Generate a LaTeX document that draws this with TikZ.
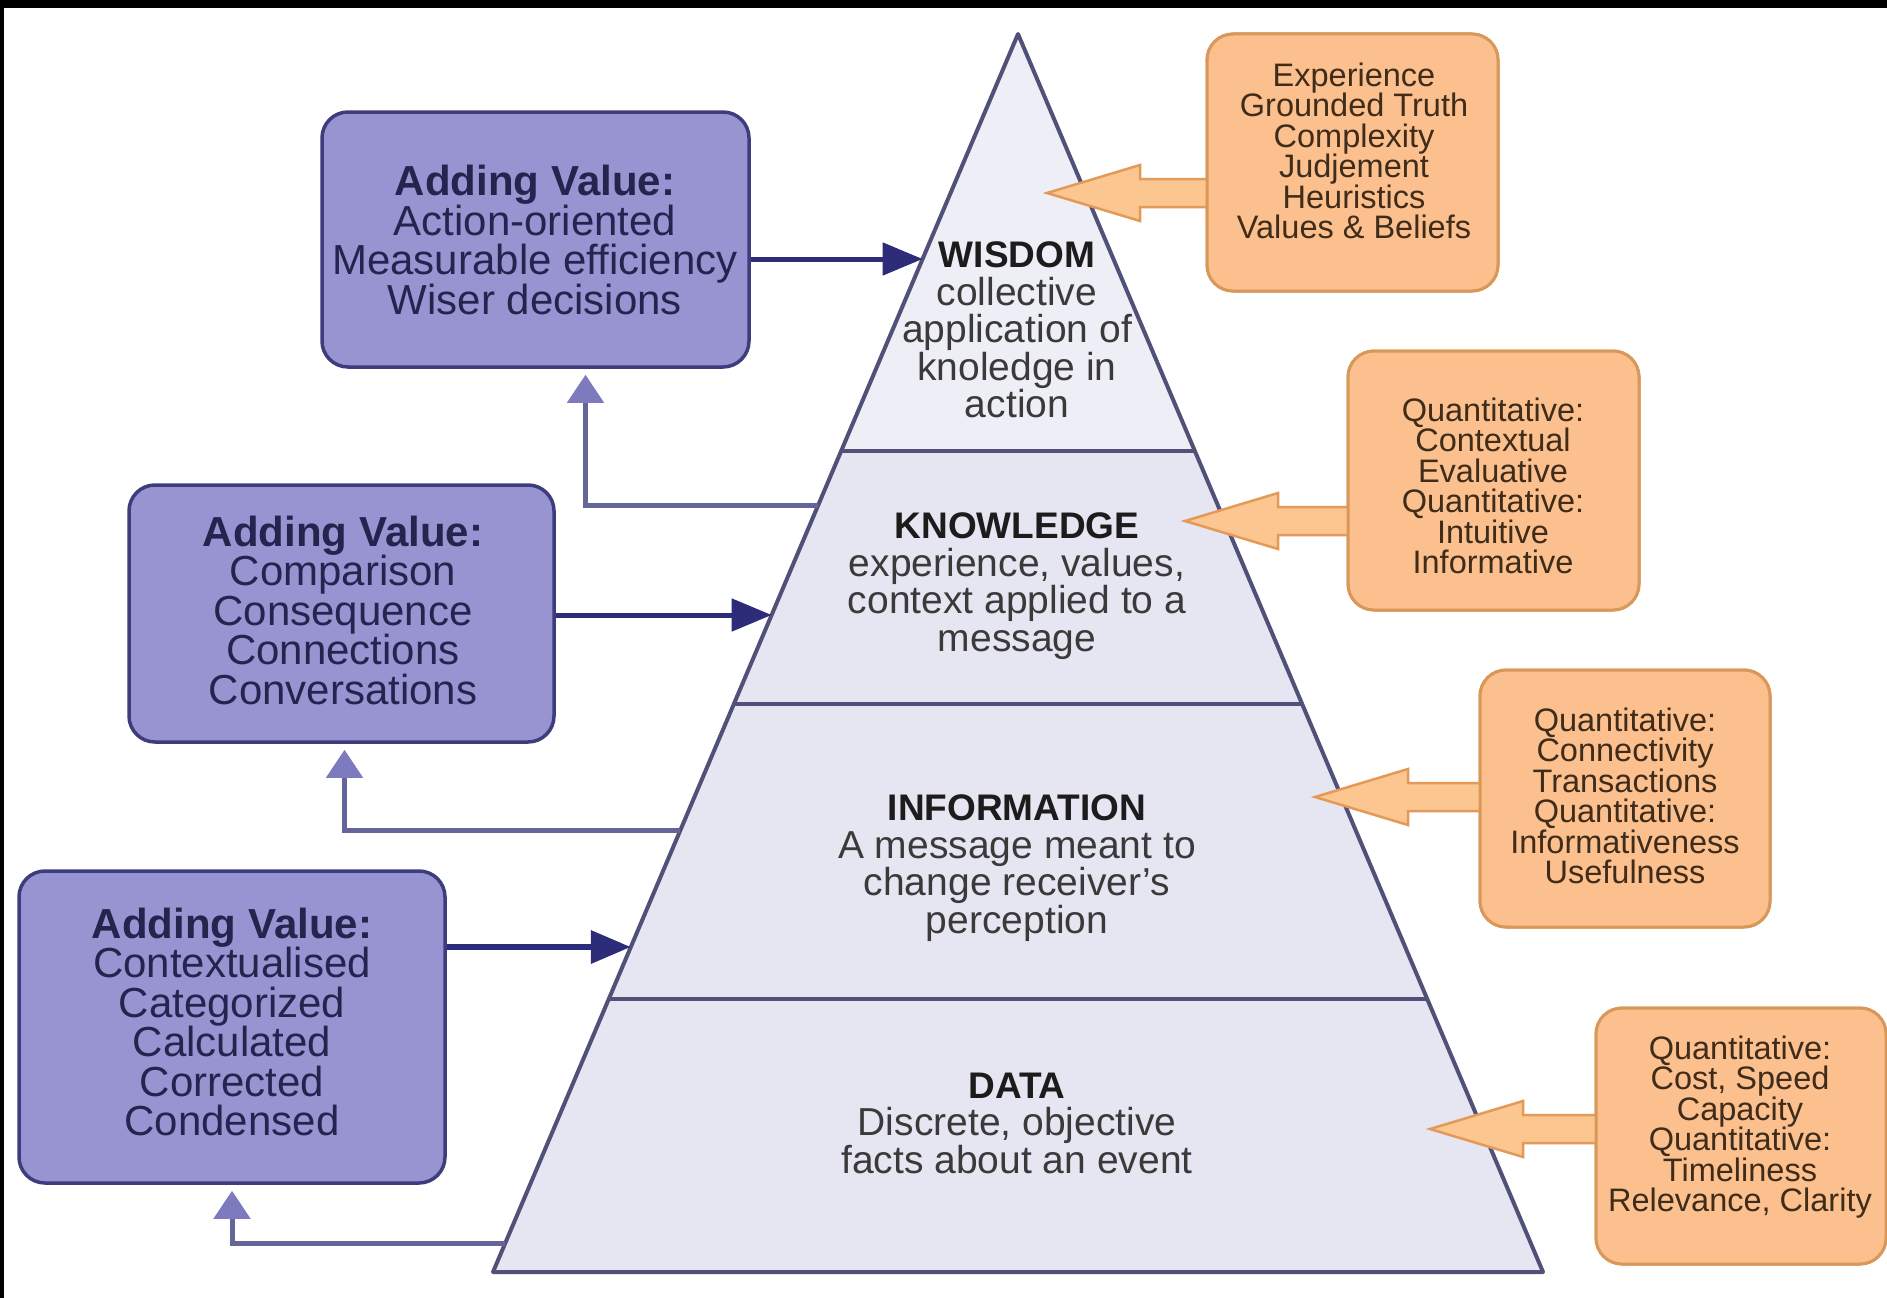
\documentclass[tikz,border=0pt]{standalone}
\usepackage{fontspec}
\setmainfont{Liberation Sans}
\usetikzlibrary{calc,arrows.meta}
\definecolor{boxfill}{HTML}{9894D2}
\definecolor{boxline}{HTML}{3D3C7C}
\definecolor{boxtext}{HTML}{25244F}
\definecolor{navy}{HTML}{2C2C78}
\definecolor{fbline}{HTML}{65659A}
\definecolor{fbhead}{HTML}{7E7ABE}
\definecolor{pyrfill}{HTML}{E6E6F2}
\definecolor{pyrtop}{HTML}{EEEEF7}
\definecolor{pyrline}{HTML}{505078}
\definecolor{orfill}{HTML}{FBC08D}
\definecolor{orline}{HTML}{D9985A}
\definecolor{orarrfill}{HTML}{FCC690}
\definecolor{orarrline}{HTML}{E39A58}
\definecolor{ortext}{HTML}{3F2C1A}
\definecolor{pyrtext}{HTML}{3A3A3A}
\definecolor{pyrtitle}{HTML}{1C1C1C}
\newcommand\titleof[1]{{\color{pyrtitle}\bfseries\fontsize{37}{37}\selectfont #1}}
\begin{document}
\begin{tikzpicture}[x=1pt,y=-1pt,
  valuebox/.style={draw=boxline,line width=3.5pt,fill=boxfill,rounded corners=26pt,inner sep=0pt},
  valuetext/.style={text=boxtext,align=center,font=\fontsize{42}{39.5}\selectfont},
  qualbox/.style={draw=orline,line width=3pt,fill=orfill,rounded corners=26pt,inner sep=0pt},
  qualtext/.style={text=ortext,align=center,font=\fontsize{32.5}{30.5}\selectfont},
  layertext/.style={text=pyrtext,align=center,font=\fontsize{39}{37.5}\selectfont},
  pyrborder/.style={draw=pyrline,line width=4pt,line join=round},
  valuearrow/.style={draw=navy,line width=5pt,-{Triangle[length=40pt,width=32pt]}},
  feedback/.style={draw=fbline,line width=5pt,-{Triangle[length=28pt,width=36pt,color=fbhead]}},
  qualarrow/.style={draw=orarrline,line width=2.5pt,fill=orarrfill,line join=miter}
]
\useasboundingbox (0,0) rectangle (1887,1298);
\fill[white] (0,0) rectangle (1887,1298);
\fill[black] (0,0) rectangle (1887,8);
\fill[black] (0,0) rectangle (4,1298);

% pyramid
\coordinate (apex) at (1018,34);
\coordinate (bl) at (493,1272);
\coordinate (br) at (1543,1272);
\coordinate (l1) at (intersection of apex--bl and 0,451--10,451);
\coordinate (r1) at (intersection of apex--br and 0,451--10,451);
\coordinate (l2) at (intersection of apex--bl and 0,704--10,704);
\coordinate (r2) at (intersection of apex--br and 0,704--10,704);
\coordinate (l3) at (intersection of apex--bl and 0,999--10,999);
\coordinate (r3) at (intersection of apex--br and 0,999--10,999);
\fill[pyrfill] (apex) -- (bl) -- (br) -- cycle;
\fill[pyrtop] (apex) -- (l1) -- (r1) -- cycle;
\draw[pyrborder] (l1) -- (r1);
\draw[pyrborder] (l2) -- (r2);
\draw[pyrborder] (l3) -- (r3);
\draw[pyrborder] (apex) -- (bl) -- (br) -- cycle;

% left value boxes
\node[valuebox,minimum width=427pt,minimum height=255pt] (b1) at (535.5,239.5) {};
\node[valuebox,minimum width=425pt,minimum height=257pt] (b2) at (341.5,613.5) {};
\node[valuebox,minimum width=426pt,minimum height=312pt] (b3) at (232,1027) {};
\node[valuetext] (b1t) at (535,240) {\textbf{Adding Value:}\\Action-oriented\\Measurable efficiency\\Wiser decisions};
\node[valuetext] (b2t) at (343,610) {\textbf{Adding Value:}\\Comparison\\Consequence\\Connections\\Conversations};
\node[valuetext] (b3t) at (232,1022) {\textbf{Adding Value:}\\Contextualised\\Categorized\\Calculated\\Corrected\\Condensed};

% value arrows into pyramid
\coordinate (w-in) at (intersection of apex--bl and 0,259--10,259);
\coordinate (k-in) at (intersection of apex--bl and 0,615--10,615);
\coordinate (i-in) at (intersection of apex--bl and 0,947--10,947);
\draw[valuearrow] (b1.east |- w-in) -- (w-in);
\draw[valuearrow] (b2.east |- k-in) -- (k-in);
\draw[valuearrow,line width=6.5pt] (b3.east |- i-in) -- (i-in);

% feedback arrows
\coordinate (k-out) at (intersection of apex--bl and 0,505--10,505);
\coordinate (i-out) at (intersection of apex--bl and 0,830--10,830);
\coordinate (d-out) at (intersection of apex--bl and 0,1243--10,1243);
\draw[feedback] (k-out) -| ([xshift=50pt,yshift=-6pt]b1.south);
\draw[feedback] (i-out) -| ([xshift=3pt,yshift=-6pt]b2.south);
\draw[feedback] (d-out) -| ([yshift=-6pt]b3.south);

% pyramid texts
\node[layertext] (wis) at (1017,330) {\titleof{WISDOM}\\collective\\application of\\knoledge in\\action};
\node[layertext] (kno) at (1017,586) {\titleof{KNOWLEDGE}\\experience, values,\\context applied to a\\message};
\node[layertext] (inf) at (1017,868) {\titleof{INFORMATION}\\A message meant to\\change receiver's\\perception};
\node[layertext] (dat) at (1017,1123) {\titleof{DATA}\\Discrete, objective\\facts about an event};

% orange boxes
\node[qualbox,minimum width=291pt,minimum height=257pt] (o1) at (1352.5,162.5) {};
\node[qualbox,minimum width=291pt,minimum height=259pt] (o2) at (1493.5,480.5) {};
\node[qualbox,minimum width=290pt,minimum height=257pt] (o3) at (1625,798.5) {};
\node[qualbox,minimum width=290pt,minimum height=256pt] (o4) at (1741,1136) {};

% orange arrows
\coordinate (t1) at (1047,193);
\coordinate (t2) at (1185,521);
\coordinate (t3) at (1315,797);
\coordinate (t4) at (1430,1129);
\filldraw[qualarrow] (t1) -- ++(93,-28) -- ++(0,14) -- ($(o1.west|-t1)+(4,-14)$) -- ++(0,28) -- ($(t1)+(93,14)$) -- ++(0,14) -- cycle;
\filldraw[qualarrow] (t2) -- ++(93,-28) -- ++(0,14) -- ($(o2.west|-t2)+(4,-14)$) -- ++(0,28) -- ($(t2)+(93,14)$) -- ++(0,14) -- cycle;
\filldraw[qualarrow] (t3) -- ++(93,-28) -- ++(0,14) -- ($(o3.west|-t3)+(4,-14)$) -- ++(0,28) -- ($(t3)+(93,14)$) -- ++(0,14) -- cycle;
\filldraw[qualarrow] (t4) -- ++(93,-28) -- ++(0,14) -- ($(o4.west|-t4)+(4,-14)$) -- ++(0,28) -- ($(t4)+(93,14)$) -- ++(0,14) -- cycle;
\node[qualbox,minimum width=291pt,minimum height=257pt] at (o1) {};
\node[qualbox,minimum width=291pt,minimum height=259pt] at (o2) {};
\node[qualbox,minimum width=290pt,minimum height=257pt] at (o3) {};
\node[qualbox,minimum width=290pt,minimum height=256pt] at (o4) {};

\node[qualtext] (o1t) at (1354,151) {Experience\\Grounded Truth\\Complexity\\Judjement\\Heuristics\\Values \& Beliefs};
\node[qualtext] (o2t) at (1493,486) {Quantitative:\\Contextual\\Evaluative\\Quantitative:\\Intuitive\\Informative};
\node[qualtext] (o3t) at (1625,796) {Quantitative:\\Connectivity\\Transactions\\Quantitative:\\Informativeness\\Usefulness};
\node[qualtext] (o4t) at (1740,1127) {Quantitative:\\Cost, Speed\\Capacity\\Quantitative:\\Timeliness\\Relevance, Clarity};
\end{tikzpicture}
\end{document}
